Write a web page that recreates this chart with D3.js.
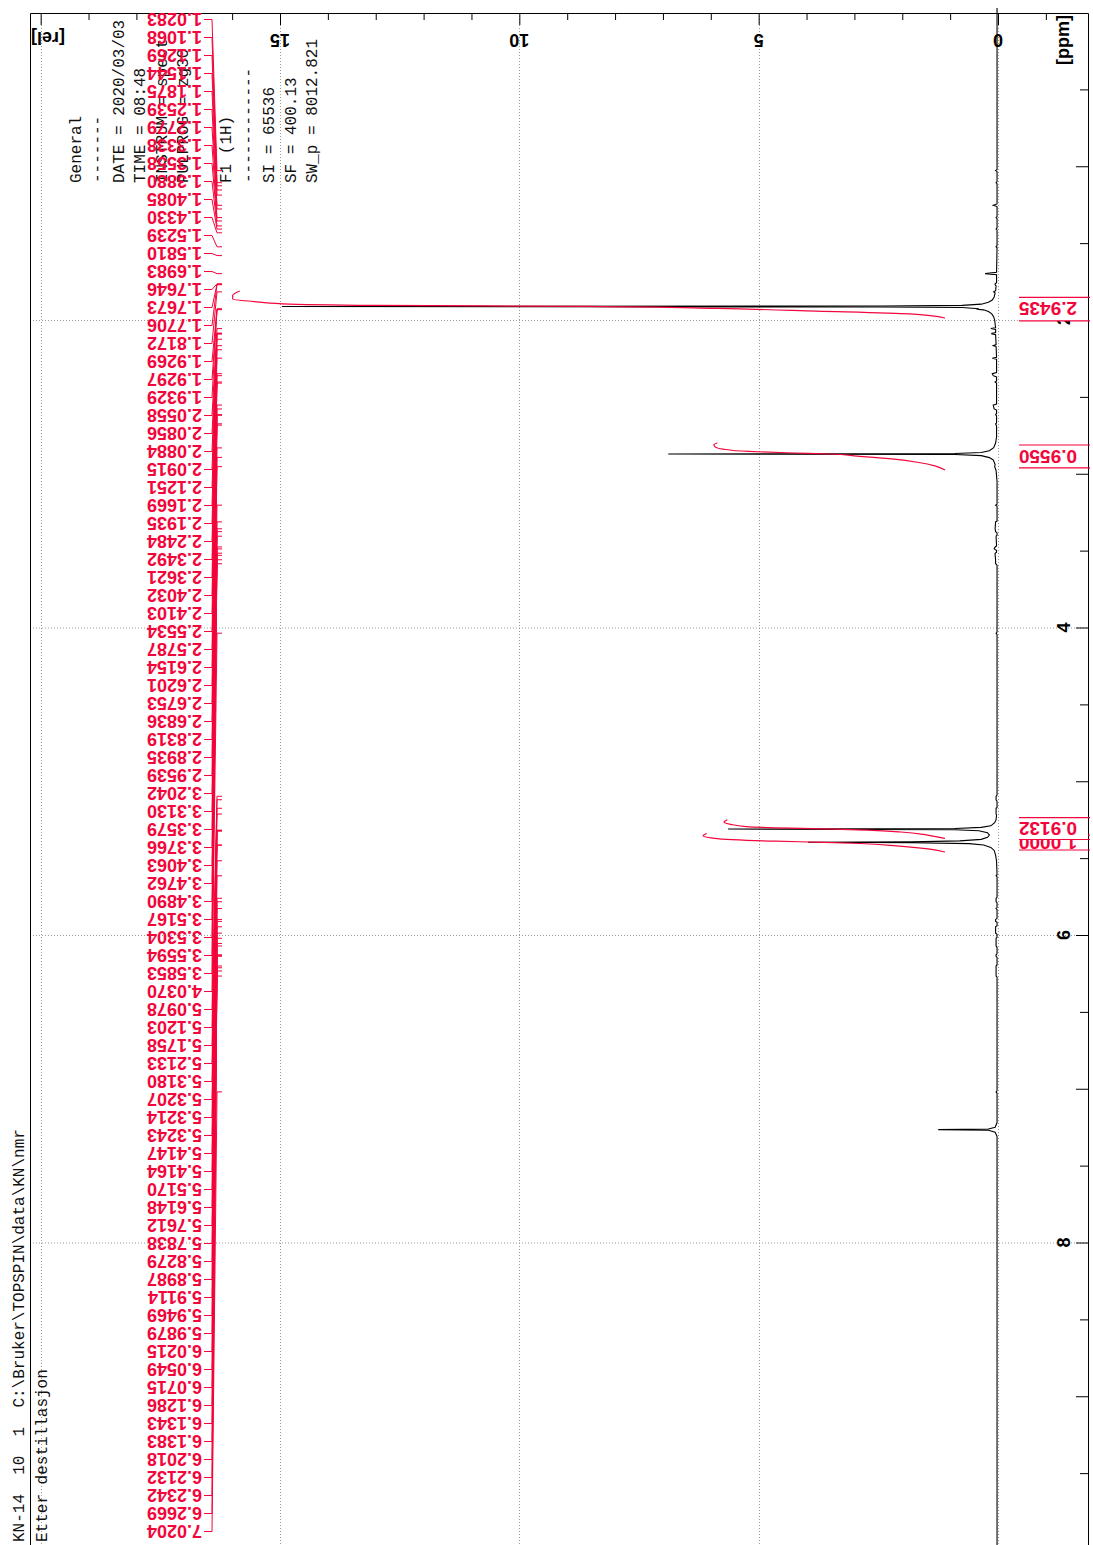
<!DOCTYPE html>
<html>
<head>
<meta charset="utf-8">
<script src="https://cdn.jsdelivr.net/npm/d3@7"></script>
<style>
  html, body { margin: 0; padding: 0; background: #fff; }
  svg { display: block; }
</style>
</head>
<body>
<svg id="chart" width="1093" height="1545"></svg>
<script>
// ---------------- data ----------------
// picked peak positions (ppm), listed as printed in the peak list
const peakPositions = [
  1.0283, 1.1068, 1.1269, 1.1544, 1.1875, 1.2539, 1.2779, 1.3338, 1.3558, 1.3880,
  1.4085, 1.4330, 1.5239, 1.5810, 1.6983, 1.7646, 1.7673, 1.7706, 1.8172, 1.9269,
  1.9297, 1.9329, 2.0558, 2.0856, 2.0884, 2.0915, 2.1251, 2.1669, 2.1935, 2.2484,
  2.3492, 2.3621, 2.4032, 2.4103, 2.5534, 2.5787, 2.6154, 2.6201, 2.6753, 2.6836,
  2.8319, 2.8935, 2.9539, 3.2042, 3.3130, 3.3579, 3.3766, 3.4063, 3.4762, 3.4890,
  3.5167, 3.5304, 3.5594, 3.5853, 4.0370, 5.0978, 5.1203, 5.1758, 5.2133, 5.3180,
  5.3207, 5.3214, 5.3243, 5.4147, 5.4164, 5.5170, 5.6148, 5.7612, 5.7838, 5.8279,
  5.8987, 5.9114, 5.9469, 5.9879, 6.0215, 6.0549, 6.0715, 6.1286, 6.1343, 6.1383,
  6.2018, 6.2132, 6.2342, 6.2669, 7.0204
];

// 1H spectrum trace: [ppm, relative intensity]
const spectrum = [
  [-0.03, 0.02], [0.95, 0.02],
  [1.022, 0.02], [1.0283, 0.05], [1.034, 0.02],
  [1.100, 0.02], [1.1068, 0.04], [1.113, 0.02],
  [1.245, 0.02], [1.2539, 0.10], [1.262, 0.02],
  [1.328, 0.02], [1.3338, 0.04], [1.340, 0.02],
  [1.402, 0.02], [1.4085, 0.04], [1.415, 0.02],
  [1.517, 0.02], [1.5239, 0.04], [1.530, 0.02],
  [1.690, 0.03], [1.6983, 0.27], [1.706, 0.03],
  [1.758, 0.03], [1.7646, 0.06], [1.7706, 0.06], [1.778, 0.04],
  [1.810, 0.05], [1.8172, 0.09], [1.824, 0.06],
  [1.850, 0.08], [1.870, 0.12], [1.885, 0.20], [1.897, 0.35], [1.905, 0.75],
  [1.909, 2.4], [1.912, 14.96], [1.915, 2.4], [1.919, 0.75], [1.927, 0.40],
  [1.9297, 0.45], [1.934, 0.30], [1.945, 0.20], [1.960, 0.13], [1.980, 0.09], [2.000, 0.07],
  [2.050, 0.05], [2.0558, 0.15], [2.062, 0.05],
  [2.082, 0.05], [2.0884, 0.14], [2.095, 0.05],
  [2.160, 0.04], [2.1669, 0.10], [2.173, 0.04],
  [2.242, 0.03], [2.2484, 0.12], [2.255, 0.03],
  [2.342, 0.03], [2.3492, 0.12], [2.3621, 0.10], [2.370, 0.03],
  [2.397, 0.03], [2.4032, 0.06], [2.410, 0.03],
  [2.547, 0.03], [2.5534, 0.10], [2.5787, 0.08], [2.586, 0.03],
  [2.610, 0.03], [2.6154, 0.05], [2.624, 0.03],
  [2.670, 0.03], [2.6753, 0.05], [2.690, 0.03],
  [2.760, 0.03], [2.800, 0.05], [2.830, 0.09], [2.850, 0.18], [2.862, 0.35],
  [2.868, 0.9], [2.8715, 6.89], [2.875, 0.9], [2.882, 0.35], [2.895, 0.18],
  [2.910, 0.10], [2.940, 0.06], [2.9539, 0.07], [2.980, 0.04], [3.050, 0.02],
  [3.198, 0.02], [3.2042, 0.05], [3.210, 0.02],
  [3.308, 0.02], [3.3130, 0.05], [3.3579, 0.06], [3.3766, 0.05], [3.385, 0.02],
  [3.400, 0.02], [3.4063, 0.04], [3.470, 0.03], [3.4762, 0.06], [3.4890, 0.08], [3.500, 0.03],
  [3.510, 0.03], [3.5167, 0.06], [3.5304, 0.06], [3.5594, 0.05], [3.5853, 0.05], [3.595, 0.02],
  [4.030, 0.02], [4.0370, 0.04], [4.045, 0.02],
  [5.090, 0.02], [5.0978, 0.04], [5.1203, 0.04], [5.130, 0.02],
  [5.170, 0.02], [5.1758, 0.04], [5.2133, 0.04], [5.220, 0.03],
  [5.250, 0.04], [5.270, 0.07], [5.290, 0.15], [5.300, 0.35], [5.307, 0.9],
  [5.311, 5.64], [5.315, 0.9], [5.322, 0.40], [5.335, 0.22], [5.350, 0.18],
  [5.365, 0.22], [5.378, 0.35], [5.388, 0.8], [5.394, 1.8], [5.397, 3.97],
  [5.400, 1.8], [5.406, 0.6], [5.415, 0.30], [5.430, 0.15], [5.450, 0.08],
  [5.480, 0.05], [5.520, 0.03],
  [5.608, 0.02], [5.6148, 0.04], [5.621, 0.02],
  [5.755, 0.02], [5.7612, 0.04], [5.7838, 0.04], [5.790, 0.02],
  [5.822, 0.02], [5.8279, 0.04], [5.835, 0.02],
  [5.892, 0.02], [5.8987, 0.05], [5.9114, 0.05], [5.918, 0.02],
  [5.940, 0.02], [5.9469, 0.05], [5.9879, 0.05], [5.995, 0.02],
  [6.015, 0.02], [6.0215, 0.04], [6.0549, 0.04], [6.0715, 0.04], [6.080, 0.02],
  [6.122, 0.02], [6.1286, 0.04], [6.1383, 0.04], [6.145, 0.02],
  [6.195, 0.02], [6.2018, 0.04], [6.2342, 0.04], [6.2669, 0.04], [6.275, 0.02],
  [7.012, 0.02], [7.0204, 0.04], [7.028, 0.02],
  [7.220, 0.02], [7.250, 0.06], [7.262, 0.20], [7.266, 1.25], [7.270, 0.20],
  [7.282, 0.06], [7.310, 0.02],
  [9.98, 0.02]
];

// integrals: value, label bracket (ppm) and running-integral trace [ppm, fraction]
const integralValues = [2.9435, 0.9550, 0.9132, 1.0000];
const integralBrackets = [[1.853, 2.006], [2.813, 2.962], [5.236, 5.379], [5.350, 5.447]];
const integralCurves = [
  [[1.987, 0], [1.960, 0.05], [1.942, 0.18], [1.925, 0.32], [1.912, 0.50], [1.905, 0.80],
   [1.895, 0.93], [1.880, 0.97], [1.863, 1.00], [1.840, 1.00], [1.811, 0.99]],
  [[2.976, 0], [2.950, 0.04], [2.925, 0.12], [2.905, 0.22], [2.885, 0.38], [2.8715, 0.50],
   [2.865, 0.65], [2.855, 0.85], [2.840, 0.96], [2.825, 0.995], [2.812, 1.00], [2.800, 0.985]],
  [[5.372, 0], [5.350, 0.08], [5.330, 0.20], [5.318, 0.35], [5.311, 0.50], [5.305, 0.70],
   [5.295, 0.90], [5.280, 0.97], [5.265, 1.00], [5.250, 0.985]],
  [[5.460, 0], [5.440, 0.07], [5.420, 0.20], [5.405, 0.35], [5.397, 0.50], [5.390, 0.70],
   [5.380, 0.88], [5.370, 0.96], [5.355, 1.00], [5.340, 0.985]]
];

const intensityLabels = [0, 5, 10, 15];
const ppmLabels = [2, 4, 6, 8];
const parameterLines = [
  "General", "-------", "DATE = 2020/03/03", "TIME = 08:48", "INSTRUM = spect",
  "PULPROG = zg30", "", "F1 (1H)", "------------", "SI = 65536", "SF = 400.13",
  "SW_p = 8012.821"
];
const titleLines = ["KN-14  10  1  C:\\Bruker\\TOPSPIN\\data\\KN\\nmr", "Etter destillasjon"];

// ---------------- layout ----------------
const W = 1093, H = 1545;
const frame = { left: 30, top: 13, right: 1088, bottom: 1545 };
const RED = "#f2063c";
const svg = d3.select("#chart");
svg.append("rect").attr("width", W).attr("height", H).attr("fill", "#fff");

// intensity runs right-to-left, chemical shift top-to-bottom
const x = d3.scaleLinear().domain([0, 15]).range([998, 280]);
const y = d3.scaleLinear().domain([0, 8]).range([12.5, 1242.5]);
const xInt = d3.scaleLinear().domain([0, 1]).range([945, 703]);

// dotted grid
const grid = svg.append("g").attr("stroke", "#9a9a9a").attr("stroke-width", 1)
  .attr("stroke-dasharray", "1,2");
grid.selectAll("line.h").data(ppmLabels).join("line").attr("class", "h")
  .attr("x1", frame.left).attr("x2", frame.right)
  .attr("y1", d => y(d) + 0.5).attr("y2", d => y(d) + 0.5);
grid.selectAll("line.v").data([0, 5, 10, 15, 20]).join("line").attr("class", "v")
  .attr("y1", frame.top).attr("y2", frame.bottom)
  .attr("x1", d => Math.round(x(d)) + 0.5).attr("x2", d => Math.round(x(d)) + 0.5);

// frame
svg.append("path")
  .attr("d", `M${frame.left + 0.5},${frame.bottom} V${frame.top + 0.5} H${frame.right + 0.5} V${frame.bottom}`)
  .attr("fill", "none").attr("stroke", "#000").attr("stroke-width", 1);

// intensity axis ticks along the top edge
const topAxis = d3.axisBottom(x).tickValues(d3.range(-1, 21)).tickSize(7).tickFormat("");
const gTop = svg.append("g").attr("transform", `translate(0,${frame.top})`).call(topAxis);
gTop.select(".domain").remove();
gTop.selectAll(".tick line").attr("y2", d => (d % 5 === 0 ? 12 : 7));

// chemical shift ticks along the right edge
const rightAxis = d3.axisLeft(y).tickValues(d3.range(0.5, 10, 0.5)).tickSize(8).tickFormat("");
const gRight = svg.append("g").attr("transform", `translate(${frame.right},0)`).call(rightAxis);
gRight.select(".domain").remove();
gRight.selectAll(".tick line").attr("x2", d => (d % 1 === 0 ? -12 : -8));

// axis labels
const labelFont = "'Liberation Sans', Arial, sans-serif";
svg.append("g").selectAll("text").data(intensityLabels).join("text")
  .attr("transform", d => `translate(${x(d)},40) rotate(180)`)
  .attr("text-anchor", "middle").attr("dy", "0.36em")
  .attr("font-family", labelFont).attr("font-weight", "bold").attr("font-size", 18)
  .text(d => d);
svg.append("text").attr("transform", "translate(48,38) rotate(180)")
  .attr("text-anchor", "middle").attr("dy", "0.36em")
  .attr("font-family", labelFont).attr("font-weight", "bold").attr("font-size", 18)
  .text("[rel]");
svg.append("g").selectAll("text").data(ppmLabels).join("text")
  .attr("transform", d => `translate(1064,${y(d)}) rotate(-90)`)
  .attr("text-anchor", "middle").attr("dy", "0.36em")
  .attr("font-family", labelFont).attr("font-weight", "bold").attr("font-size", 18)
  .text(d => d);
svg.append("text").attr("transform", "translate(1063,40) rotate(-90)")
  .attr("text-anchor", "middle").attr("dy", "0.36em")
  .attr("font-family", labelFont).attr("font-weight", "bold").attr("font-size", 18)
  .text("[ppm]");

// acquisition parameters
const mono = "'Liberation Mono', 'DejaVu Sans Mono', monospace";
svg.append("g").selectAll("text").data(parameterLines).join("text")
  .attr("transform", (d, i) => `translate(${75 + i * 21.5},183) rotate(-90)`)
  .attr("dy", "0.35em").attr("font-family", mono).attr("font-size", 16).attr("fill", "#111")
  .style("white-space", "pre")
  .text(d => d);

// title block
svg.append("g").selectAll("text").data(titleLines).join("text")
  .attr("transform", (d, i) => `translate(${18 + i * 23},1542) rotate(-90)`)
  .attr("dy", "0.35em").attr("font-family", mono).attr("font-size", 16).attr("fill", "#111")
  .style("white-space", "pre")
  .text(d => d);

// spectrum trace
const trace = d3.line().x(d => x(d[1])).y(d => y(d[0]));
svg.append("path").datum(spectrum).attr("d", trace)
  .attr("fill", "none").attr("stroke", "#000").attr("stroke-width", 1.1);

// running integrals
const integralLine = d3.line().curve(d3.curveMonotoneY)
  .x(d => xInt(d[1] * d.value)).y(d => y(d[0]));
integralCurves.forEach((pts, k) => {
  const v = integralValues[k];
  const data = pts.map(p => Object.assign([p[0], p[1]], { value: v }));
  svg.append("path").datum(data).attr("d", integralLine)
    .attr("fill", "none").attr("stroke", RED).attr("stroke-width", 1.2);
});

// integral value labels on the right edge (later ones drawn underneath)
const gInt = svg.append("g");
[3, 2, 1, 0].forEach(k => {
  const y0 = y(integralBrackets[k][0]), y1 = y(integralBrackets[k][1]);
  const g = gInt.append("g");
  g.append("rect").attr("x", 1019).attr("y", y0).attr("width", 69).attr("height", y1 - y0)
    .attr("fill", "#fff");
  g.append("path")
    .attr("d", `M1019,${y0} H1090 M1019,${y1} H1090`)
    .attr("stroke", RED).attr("stroke-width", 1.2).attr("fill", "none");
  g.append("text")
    .attr("transform", `translate(1077,${(y0 + y1) / 2}) rotate(180)`)
    .attr("dy", "0.36em").attr("font-family", labelFont).attr("font-weight", "bold")
    .attr("font-size", 19).attr("fill", RED)
    .text(integralValues[k].toFixed(4));
});

// peak list with leader lines
const gPeaks = svg.append("g");
gPeaks.selectAll("path").data(peakPositions).join("path")
  .attr("d", (p, i) => {
    const yl = 19.5 + i * 18, yp = y(p);
    return `M204,${yl} H212 L217,${yp} H222`;
  })
  .attr("fill", "none").attr("stroke", RED).attr("stroke-width", 1);
gPeaks.selectAll("text").data(peakPositions).join("text")
  .attr("transform", (p, i) => `translate(202,${19.5 + i * 18}) rotate(180)`)
  .attr("dy", "0.36em").attr("font-family", labelFont).attr("font-weight", "bold")
  .attr("font-size", 18).attr("fill", RED)
  .text(p => p.toFixed(4));
</script>
</body>
</html>
